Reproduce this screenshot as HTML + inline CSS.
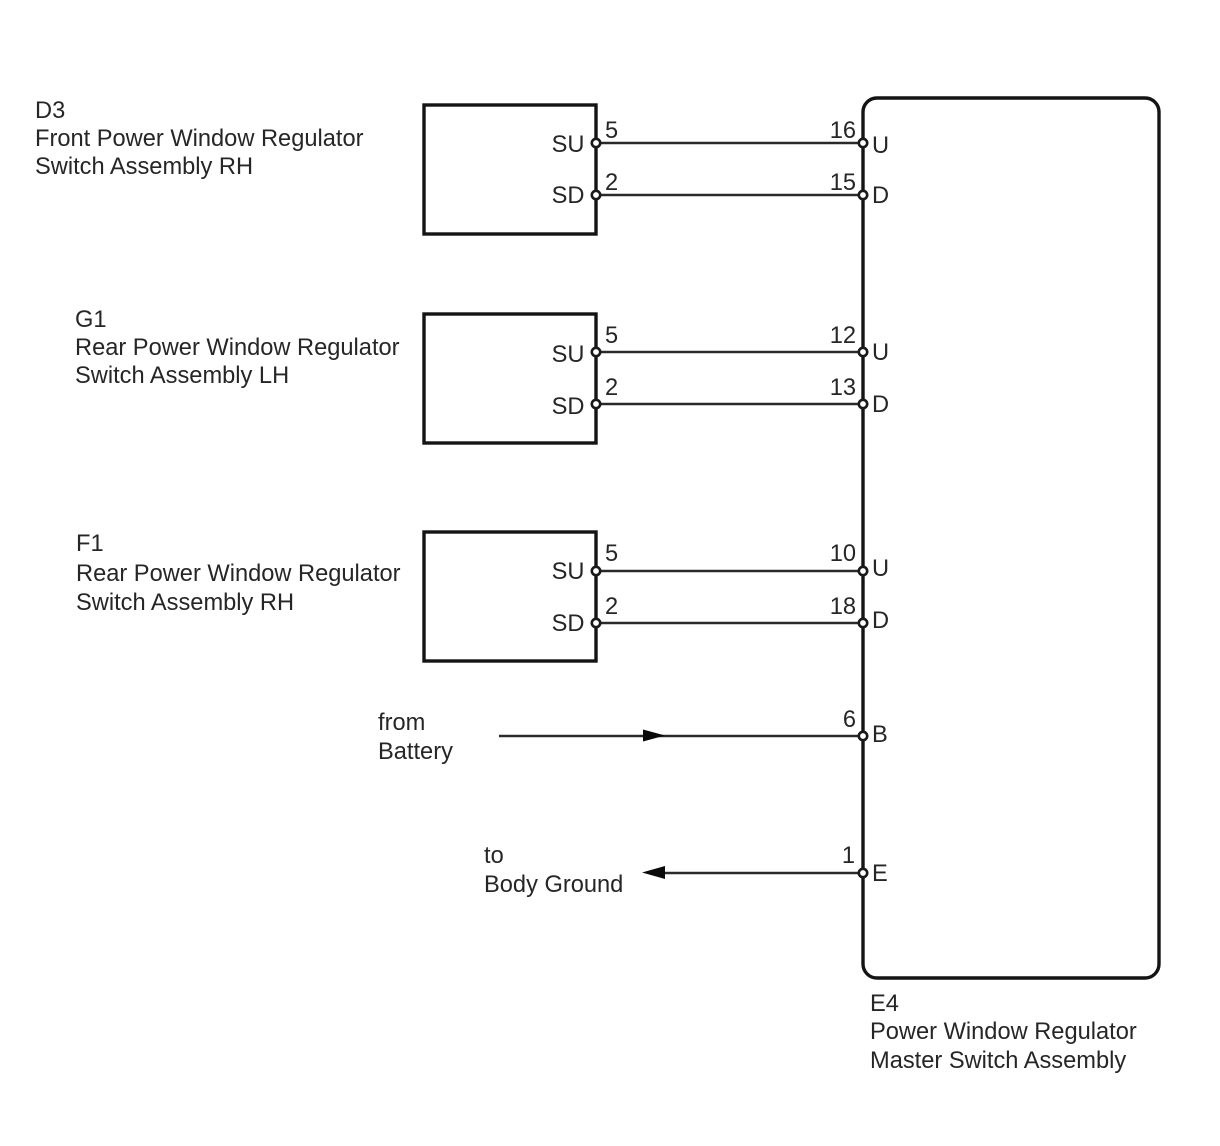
<!DOCTYPE html>
<html><head><meta charset="utf-8"><style>
html,body{margin:0;padding:0;background:#fff;width:1220px;height:1146px;overflow:hidden}
svg{display:block;filter:blur(0.35px)}
text{font-family:"Liberation Sans",Arial,sans-serif;font-size:23.65px;fill:#262626}
</style></head><body>
<svg width="1220" height="1146" viewBox="0 0 1220 1146" xmlns="http://www.w3.org/2000/svg">
<g fill="none" stroke="#141414" stroke-width="3.4">
<rect x="424" y="105" width="172" height="129"/>
<rect x="424" y="314" width="172" height="129"/>
<rect x="424" y="532" width="172" height="129"/>
<rect x="863" y="98" width="296" height="880" rx="14"/>
</g>
<g stroke="#2a2a2a" stroke-width="2.4">
<line x1="596" y1="143" x2="863" y2="143"/>
<line x1="596" y1="195" x2="863" y2="195"/>
<line x1="596" y1="352" x2="863" y2="352"/>
<line x1="596" y1="404" x2="863" y2="404"/>
<line x1="596" y1="571" x2="863" y2="571"/>
<line x1="596" y1="623" x2="863" y2="623"/>
<line x1="499" y1="736" x2="863" y2="736"/>
<line x1="660" y1="873" x2="863" y2="873"/>
</g>
<polygon points="643,729.5 665,735.5 643,741.5" fill="#0a0a0a"/>
<polygon points="642,872.5 665,866 665,879" fill="#0a0a0a"/>
<g fill="#fff" stroke="#1a1a1a" stroke-width="2.6">
<circle cx="596" cy="143" r="4.2"/><circle cx="596" cy="195" r="4.2"/>
<circle cx="596" cy="352" r="4.2"/><circle cx="596" cy="404" r="4.2"/>
<circle cx="596" cy="571" r="4.2"/><circle cx="596" cy="623" r="4.2"/>
<circle cx="863" cy="143" r="4.2"/><circle cx="863" cy="195" r="4.2"/>
<circle cx="863" cy="352" r="4.2"/><circle cx="863" cy="404" r="4.2"/>
<circle cx="863" cy="571" r="4.2"/><circle cx="863" cy="623" r="4.2"/>
<circle cx="863" cy="736" r="4.2"/><circle cx="863" cy="873" r="4.2"/>
</g>
<text x="35" y="118">D3</text>
<text x="35" y="146">Front Power Window Regulator</text>
<text x="35" y="174">Switch Assembly RH</text>
<text x="75" y="327">G1</text>
<text x="75" y="355">Rear Power Window Regulator</text>
<text x="75" y="383">Switch Assembly LH</text>
<text x="76" y="551">F1</text>
<text x="76" y="581">Rear Power Window Regulator</text>
<text x="76" y="610">Switch Assembly RH</text>
<text x="378" y="730">from</text>
<text x="378" y="759">Battery</text>
<text x="484" y="863">to</text>
<text x="484" y="892">Body Ground</text>
<text x="870" y="1011">E4</text>
<text x="870" y="1039">Power Window Regulator</text>
<text x="870" y="1068">Master Switch Assembly</text>
<g text-anchor="end">
<text x="584.5" y="152">SU</text><text x="584.5" y="203">SD</text>
<text x="584.5" y="362">SU</text><text x="584.5" y="414">SD</text>
<text x="584.5" y="579">SU</text><text x="584.5" y="631">SD</text>
<text x="856" y="138">16</text><text x="856" y="190">15</text>
<text x="856" y="343">12</text><text x="856" y="395">13</text>
<text x="856" y="561">10</text><text x="856" y="614">18</text>
<text x="856" y="727">6</text><text x="855" y="863">1</text>
</g>
<text x="605" y="138">5</text><text x="605" y="190">2</text>
<text x="605" y="343">5</text><text x="605" y="395">2</text>
<text x="605" y="561">5</text><text x="605" y="614">2</text>
<text x="872" y="153">U</text><text x="872" y="203">D</text>
<text x="872" y="360">U</text><text x="872" y="412">D</text>
<text x="872" y="576">U</text><text x="872" y="628">D</text>
<text x="872" y="742">B</text><text x="872" y="881">E</text>
</svg>
</body></html>
